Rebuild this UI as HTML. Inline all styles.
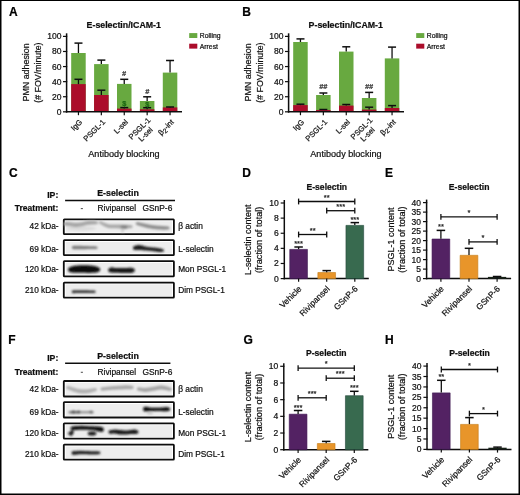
<!DOCTYPE html>
<html><head><meta charset="utf-8"><style>
html,body{margin:0;padding:0;background:#fff;width:520px;height:495px;overflow:hidden}
svg{display:block}
</style></head><body>
<svg width="520" height="495" viewBox="0 0 520 495">
<defs><filter id="blur1" x="-20%" y="-50%" width="140%" height="200%"><feGaussianBlur stdDeviation="0.9"/></filter><filter id="soft" x="0" y="0" width="520" height="495" filterUnits="userSpaceOnUse"><feGaussianBlur stdDeviation="0.4"/></filter></defs>
<rect x="0" y="0" width="520" height="495" fill="#000"/>
<rect x="1.5" y="1" width="517" height="492.5" fill="#fff"/>
<g font-family='"Liberation Sans", sans-serif' stroke-linejoin="round" filter="url(#soft)">
<text x="9.00" y="15.50" font-size="12" text-anchor="start" font-weight="bold" fill="#000" stroke="#000" stroke-width="0.22" >A</text>
<text x="242.20" y="15.50" font-size="12" text-anchor="start" font-weight="bold" fill="#000" stroke="#000" stroke-width="0.22" >B</text>
<text x="8.90" y="177.00" font-size="12" text-anchor="start" font-weight="bold" fill="#000" stroke="#000" stroke-width="0.22" >C</text>
<text x="242.30" y="176.70" font-size="12" text-anchor="start" font-weight="bold" fill="#000" stroke="#000" stroke-width="0.22" >D</text>
<text x="385.00" y="176.70" font-size="12" text-anchor="start" font-weight="bold" fill="#000" stroke="#000" stroke-width="0.22" >E</text>
<text x="8.30" y="344.00" font-size="12" text-anchor="start" font-weight="bold" fill="#000" stroke="#000" stroke-width="0.22" >F</text>
<text x="243.40" y="344.20" font-size="12" text-anchor="start" font-weight="bold" fill="#000" stroke="#000" stroke-width="0.22" >G</text>
<text x="385.00" y="344.20" font-size="12" text-anchor="start" font-weight="bold" fill="#000" stroke="#000" stroke-width="0.22" >H</text>
<text x="123.75" y="28.30" font-size="8.8" text-anchor="middle" font-weight="bold" fill="#111" stroke="#111" stroke-width="0.22" >E-selectin/ICAM-1</text>
<text transform="translate(29.40,72.40) rotate(-90)" font-size="8.9" text-anchor="middle" fill="#111" stroke="#111" stroke-width="0.22">PMN adhesion</text>
<text transform="translate(41.00,72.60) rotate(-90)" font-size="8.8" text-anchor="middle" fill="#111" stroke="#111" stroke-width="0.22">(# FOV/minute)</text>
<line x1="63.00" y1="111.80" x2="67.20" y2="111.80" stroke="#111" stroke-width="1.2"/>
<text x="61.50" y="114.80" font-size="8.5" text-anchor="end" fill="#111" stroke="#111" stroke-width="0.22" >0</text>
<line x1="63.00" y1="96.72" x2="67.20" y2="96.72" stroke="#111" stroke-width="1.2"/>
<text x="61.50" y="99.72" font-size="8.5" text-anchor="end" fill="#111" stroke="#111" stroke-width="0.22" >20</text>
<line x1="63.00" y1="81.64" x2="67.20" y2="81.64" stroke="#111" stroke-width="1.2"/>
<text x="61.50" y="84.64" font-size="8.5" text-anchor="end" fill="#111" stroke="#111" stroke-width="0.22" >40</text>
<line x1="63.00" y1="66.56" x2="67.20" y2="66.56" stroke="#111" stroke-width="1.2"/>
<text x="61.50" y="69.56" font-size="8.5" text-anchor="end" fill="#111" stroke="#111" stroke-width="0.22" >60</text>
<line x1="63.00" y1="51.48" x2="67.20" y2="51.48" stroke="#111" stroke-width="1.2"/>
<text x="61.50" y="54.48" font-size="8.5" text-anchor="end" fill="#111" stroke="#111" stroke-width="0.22" >80</text>
<line x1="63.00" y1="36.40" x2="67.20" y2="36.40" stroke="#111" stroke-width="1.2"/>
<text x="61.50" y="39.40" font-size="8.5" text-anchor="end" fill="#111" stroke="#111" stroke-width="0.22" >100</text>
<rect x="71.20" y="53.00" width="14.50" height="58.80" fill="#67a93f"/>
<rect x="71.20" y="84.10" width="14.50" height="27.70" fill="#ab0a2c"/>
<line x1="78.45" y1="53.00" x2="78.45" y2="43.10" stroke="#111" stroke-width="1.3"/>
<line x1="74.45" y1="43.10" x2="82.45" y2="43.10" stroke="#111" stroke-width="1.5"/>
<line x1="78.45" y1="84.10" x2="78.45" y2="79.30" stroke="#111" stroke-width="1.3"/>
<line x1="74.45" y1="79.30" x2="82.45" y2="79.30" stroke="#111" stroke-width="1.5"/>
<line x1="78.45" y1="111.80" x2="78.45" y2="115.20" stroke="#111" stroke-width="1.2"/>
<rect x="94.10" y="64.10" width="14.50" height="47.70" fill="#67a93f"/>
<rect x="94.10" y="95.00" width="14.50" height="16.80" fill="#ab0a2c"/>
<line x1="101.35" y1="64.10" x2="101.35" y2="60.10" stroke="#111" stroke-width="1.3"/>
<line x1="97.35" y1="60.10" x2="105.35" y2="60.10" stroke="#111" stroke-width="1.5"/>
<line x1="101.35" y1="95.00" x2="101.35" y2="90.20" stroke="#111" stroke-width="1.3"/>
<line x1="97.35" y1="90.20" x2="105.35" y2="90.20" stroke="#111" stroke-width="1.5"/>
<line x1="101.35" y1="111.80" x2="101.35" y2="115.20" stroke="#111" stroke-width="1.2"/>
<rect x="117.00" y="83.90" width="14.50" height="27.90" fill="#67a93f"/>
<rect x="117.00" y="108.60" width="14.50" height="3.20" fill="#ab0a2c"/>
<line x1="124.25" y1="83.90" x2="124.25" y2="79.30" stroke="#111" stroke-width="1.3"/>
<line x1="120.25" y1="79.30" x2="128.25" y2="79.30" stroke="#111" stroke-width="1.5"/>
<line x1="124.25" y1="108.60" x2="124.25" y2="107.60" stroke="#111" stroke-width="1.3"/>
<line x1="120.25" y1="107.60" x2="128.25" y2="107.60" stroke="#111" stroke-width="1.5"/>
<line x1="124.25" y1="111.80" x2="124.25" y2="115.20" stroke="#111" stroke-width="1.2"/>
<rect x="139.90" y="101.00" width="14.50" height="10.80" fill="#67a93f"/>
<rect x="139.90" y="109.30" width="14.50" height="2.50" fill="#ab0a2c"/>
<line x1="147.15" y1="101.00" x2="147.15" y2="96.80" stroke="#111" stroke-width="1.3"/>
<line x1="143.15" y1="96.80" x2="151.15" y2="96.80" stroke="#111" stroke-width="1.5"/>
<line x1="147.15" y1="109.30" x2="147.15" y2="107.70" stroke="#111" stroke-width="1.3"/>
<line x1="143.15" y1="107.70" x2="151.15" y2="107.70" stroke="#111" stroke-width="1.5"/>
<line x1="147.15" y1="111.80" x2="147.15" y2="115.20" stroke="#111" stroke-width="1.2"/>
<rect x="162.80" y="72.60" width="14.50" height="39.20" fill="#67a93f"/>
<rect x="162.80" y="107.40" width="14.50" height="4.40" fill="#ab0a2c"/>
<line x1="170.05" y1="72.60" x2="170.05" y2="60.50" stroke="#111" stroke-width="1.3"/>
<line x1="166.05" y1="60.50" x2="174.05" y2="60.50" stroke="#111" stroke-width="1.5"/>
<line x1="170.05" y1="107.40" x2="170.05" y2="107.00" stroke="#111" stroke-width="1.3"/>
<line x1="166.05" y1="107.00" x2="174.05" y2="107.00" stroke="#111" stroke-width="1.5"/>
<line x1="170.05" y1="111.80" x2="170.05" y2="115.20" stroke="#111" stroke-width="1.2"/>
<line x1="66.60" y1="33.30" x2="66.60" y2="112.50" stroke="#111" stroke-width="1.5"/>
<line x1="65.90" y1="111.80" x2="182.00" y2="111.80" stroke="#111" stroke-width="1.5"/>
<rect x="189.20" y="33.10" width="8.10" height="4.90" fill="#67a93f"/>
<rect x="189.20" y="43.70" width="8.10" height="4.90" fill="#ab0a2c"/>
<text x="199.80" y="37.90" font-size="6.8" text-anchor="start" fill="#111" stroke="#111" stroke-width="0.22" >Rolling</text>
<text x="199.80" y="48.50" font-size="6.8" text-anchor="start" fill="#111" stroke="#111" stroke-width="0.22" >Arrest</text>
<text transform="translate(82.75,122.60) rotate(-45)" font-size="7.6" text-anchor="end" fill="#111" stroke="#111" stroke-width="0.22">IgG</text>
<text transform="translate(105.65,122.60) rotate(-45)" font-size="7.6" text-anchor="end" fill="#111" stroke="#111" stroke-width="0.22">PSGL-1</text>
<text transform="translate(128.55,122.60) rotate(-45)" font-size="7.6" text-anchor="end" fill="#111" stroke="#111" stroke-width="0.22">L-sel</text>
<g transform="translate(150.95,120.80) rotate(-45)" font-size="7.6" fill="#111" stroke="#111" stroke-width="0.22"><text text-anchor="end">PSGL-1</text><text x="-13.52" y="8.3" text-anchor="middle">L-sel</text></g>
<text transform="translate(174.35,122.60) rotate(-45)" font-size="7.6" text-anchor="end" fill="#111" stroke="#111" stroke-width="0.22">&#946;<tspan font-size="6.6" dy="1.6">2</tspan><tspan dy="-1.6">-int</tspan></text>
<text x="123.95" y="156.90" font-size="9.1" text-anchor="middle" fill="#111" stroke="#111" stroke-width="0.22" >Antibody blocking</text>
<text x="124.10" y="75.70" font-size="7.2" text-anchor="middle" font-weight="bold" fill="#333" stroke="#333" stroke-width="0.22" font-style="italic">#</text>
<text x="147.20" y="93.50" font-size="7.2" text-anchor="middle" font-weight="bold" fill="#333" stroke="#333" stroke-width="0.22" font-style="italic">#</text>
<text x="124.20" y="106.40" font-size="7.4" text-anchor="middle" font-weight="bold" fill="#1d6814" stroke="#1d6814" stroke-width="0.22" >$</text>
<text x="147.30" y="106.70" font-size="7.4" text-anchor="middle" font-weight="bold" fill="#1d6814" stroke="#1d6814" stroke-width="0.22" >$</text>
<text x="345.75" y="28.30" font-size="8.8" text-anchor="middle" font-weight="bold" fill="#111" stroke="#111" stroke-width="0.22" >P-selectin/ICAM-1</text>
<text transform="translate(251.40,72.40) rotate(-90)" font-size="8.9" text-anchor="middle" fill="#111" stroke="#111" stroke-width="0.22">PMN adhesion</text>
<text transform="translate(263.00,72.60) rotate(-90)" font-size="8.8" text-anchor="middle" fill="#111" stroke="#111" stroke-width="0.22">(# FOV/minute)</text>
<line x1="285.00" y1="111.80" x2="289.20" y2="111.80" stroke="#111" stroke-width="1.2"/>
<text x="283.50" y="114.80" font-size="8.5" text-anchor="end" fill="#111" stroke="#111" stroke-width="0.22" >0</text>
<line x1="285.00" y1="96.72" x2="289.20" y2="96.72" stroke="#111" stroke-width="1.2"/>
<text x="283.50" y="99.72" font-size="8.5" text-anchor="end" fill="#111" stroke="#111" stroke-width="0.22" >20</text>
<line x1="285.00" y1="81.64" x2="289.20" y2="81.64" stroke="#111" stroke-width="1.2"/>
<text x="283.50" y="84.64" font-size="8.5" text-anchor="end" fill="#111" stroke="#111" stroke-width="0.22" >40</text>
<line x1="285.00" y1="66.56" x2="289.20" y2="66.56" stroke="#111" stroke-width="1.2"/>
<text x="283.50" y="69.56" font-size="8.5" text-anchor="end" fill="#111" stroke="#111" stroke-width="0.22" >60</text>
<line x1="285.00" y1="51.48" x2="289.20" y2="51.48" stroke="#111" stroke-width="1.2"/>
<text x="283.50" y="54.48" font-size="8.5" text-anchor="end" fill="#111" stroke="#111" stroke-width="0.22" >80</text>
<line x1="285.00" y1="36.40" x2="289.20" y2="36.40" stroke="#111" stroke-width="1.2"/>
<text x="283.50" y="39.40" font-size="8.5" text-anchor="end" fill="#111" stroke="#111" stroke-width="0.22" >100</text>
<rect x="293.20" y="42.00" width="14.50" height="69.80" fill="#67a93f"/>
<rect x="293.20" y="105.10" width="14.50" height="6.70" fill="#ab0a2c"/>
<line x1="300.45" y1="42.00" x2="300.45" y2="38.90" stroke="#111" stroke-width="1.3"/>
<line x1="296.45" y1="38.90" x2="304.45" y2="38.90" stroke="#111" stroke-width="1.5"/>
<line x1="300.45" y1="105.10" x2="300.45" y2="104.20" stroke="#111" stroke-width="1.3"/>
<line x1="296.45" y1="104.20" x2="304.45" y2="104.20" stroke="#111" stroke-width="1.5"/>
<line x1="300.45" y1="111.80" x2="300.45" y2="115.20" stroke="#111" stroke-width="1.2"/>
<rect x="316.10" y="95.00" width="14.50" height="16.80" fill="#67a93f"/>
<rect x="316.10" y="110.00" width="14.50" height="1.80" fill="#ab0a2c"/>
<line x1="323.35" y1="95.00" x2="323.35" y2="93.00" stroke="#111" stroke-width="1.3"/>
<line x1="319.35" y1="93.00" x2="327.35" y2="93.00" stroke="#111" stroke-width="1.5"/>
<line x1="323.35" y1="110.00" x2="323.35" y2="109.50" stroke="#111" stroke-width="1.3"/>
<line x1="319.35" y1="109.50" x2="327.35" y2="109.50" stroke="#111" stroke-width="1.5"/>
<line x1="323.35" y1="111.80" x2="323.35" y2="115.20" stroke="#111" stroke-width="1.2"/>
<rect x="339.00" y="51.60" width="14.50" height="60.20" fill="#67a93f"/>
<rect x="339.00" y="105.60" width="14.50" height="6.20" fill="#ab0a2c"/>
<line x1="346.25" y1="51.60" x2="346.25" y2="46.80" stroke="#111" stroke-width="1.3"/>
<line x1="342.25" y1="46.80" x2="350.25" y2="46.80" stroke="#111" stroke-width="1.5"/>
<line x1="346.25" y1="105.60" x2="346.25" y2="104.50" stroke="#111" stroke-width="1.3"/>
<line x1="342.25" y1="104.50" x2="350.25" y2="104.50" stroke="#111" stroke-width="1.5"/>
<line x1="346.25" y1="111.80" x2="346.25" y2="115.20" stroke="#111" stroke-width="1.2"/>
<rect x="361.90" y="98.00" width="14.50" height="13.80" fill="#67a93f"/>
<rect x="361.90" y="109.60" width="14.50" height="2.20" fill="#ab0a2c"/>
<line x1="369.15" y1="98.00" x2="369.15" y2="92.40" stroke="#111" stroke-width="1.3"/>
<line x1="365.15" y1="92.40" x2="373.15" y2="92.40" stroke="#111" stroke-width="1.5"/>
<line x1="369.15" y1="109.60" x2="369.15" y2="107.20" stroke="#111" stroke-width="1.3"/>
<line x1="365.15" y1="107.20" x2="373.15" y2="107.20" stroke="#111" stroke-width="1.5"/>
<line x1="369.15" y1="111.80" x2="369.15" y2="115.20" stroke="#111" stroke-width="1.2"/>
<rect x="384.80" y="58.40" width="14.50" height="53.40" fill="#67a93f"/>
<rect x="384.80" y="108.00" width="14.50" height="3.80" fill="#ab0a2c"/>
<line x1="392.05" y1="58.40" x2="392.05" y2="47.10" stroke="#111" stroke-width="1.3"/>
<line x1="388.05" y1="47.10" x2="396.05" y2="47.10" stroke="#111" stroke-width="1.5"/>
<line x1="392.05" y1="108.00" x2="392.05" y2="105.60" stroke="#111" stroke-width="1.3"/>
<line x1="388.05" y1="105.60" x2="396.05" y2="105.60" stroke="#111" stroke-width="1.5"/>
<line x1="392.05" y1="111.80" x2="392.05" y2="115.20" stroke="#111" stroke-width="1.2"/>
<line x1="288.60" y1="33.30" x2="288.60" y2="112.50" stroke="#111" stroke-width="1.5"/>
<line x1="287.90" y1="111.80" x2="404.00" y2="111.80" stroke="#111" stroke-width="1.5"/>
<rect x="416.20" y="33.10" width="8.10" height="4.90" fill="#67a93f"/>
<rect x="416.20" y="43.70" width="8.10" height="4.90" fill="#ab0a2c"/>
<text x="426.80" y="37.90" font-size="6.8" text-anchor="start" fill="#111" stroke="#111" stroke-width="0.22" >Rolling</text>
<text x="426.80" y="48.50" font-size="6.8" text-anchor="start" fill="#111" stroke="#111" stroke-width="0.22" >Arrest</text>
<text transform="translate(304.75,122.60) rotate(-45)" font-size="7.6" text-anchor="end" fill="#111" stroke="#111" stroke-width="0.22">IgG</text>
<text transform="translate(327.65,122.60) rotate(-45)" font-size="7.6" text-anchor="end" fill="#111" stroke="#111" stroke-width="0.22">PSGL-1</text>
<text transform="translate(350.55,122.60) rotate(-45)" font-size="7.6" text-anchor="end" fill="#111" stroke="#111" stroke-width="0.22">L-sel</text>
<g transform="translate(372.95,120.80) rotate(-45)" font-size="7.6" fill="#111" stroke="#111" stroke-width="0.22"><text text-anchor="end">PSGL-1</text><text x="-13.52" y="8.3" text-anchor="middle">L-sel</text></g>
<text transform="translate(396.35,122.60) rotate(-45)" font-size="7.6" text-anchor="end" fill="#111" stroke="#111" stroke-width="0.22">&#946;<tspan font-size="6.6" dy="1.6">2</tspan><tspan dy="-1.6">-int</tspan></text>
<text x="345.95" y="156.90" font-size="9.1" text-anchor="middle" fill="#111" stroke="#111" stroke-width="0.22" >Antibody blocking</text>
<text x="323.30" y="88.70" font-size="7.2" text-anchor="middle" font-weight="bold" fill="#333" stroke="#333" stroke-width="0.22" font-style="italic">##</text>
<text x="369.00" y="89.10" font-size="7.2" text-anchor="middle" font-weight="bold" fill="#333" stroke="#333" stroke-width="0.22" font-style="italic">##</text>
<text x="58.30" y="197.50" font-size="8.7" text-anchor="end" font-weight="bold" fill="#111" stroke="#111" stroke-width="0.22" >IP:</text>
<text x="58.30" y="210.90" font-size="8.5" text-anchor="end" font-weight="bold" fill="#111" stroke="#111" stroke-width="0.22" >Treatment:</text>
<text x="118.00" y="195.70" font-size="8.8" text-anchor="middle" font-weight="bold" fill="#111" stroke="#111" stroke-width="0.22" >E-selectin</text>
<line x1="65.10" y1="200.40" x2="175.00" y2="200.40" stroke="#111" stroke-width="1.5"/>
<rect x="80.8" y="208.20" width="2.1" height="0.9" fill="#333"/>
<text x="116.80" y="211.20" font-size="8.4" text-anchor="middle" fill="#111" stroke="#111" stroke-width="0.22" >Rivipansel</text>
<text x="157.40" y="211.20" font-size="8.4" text-anchor="middle" fill="#111" stroke="#111" stroke-width="0.22" >GSnP-6</text>
<rect x="63.8" y="219.40" width="110.1" height="14.80" rx="0.6" fill="#fff" stroke="#111" stroke-width="1.8"/>
<rect x="65.7" y="221.20" width="106.2" height="11.40" fill="#ededed"/>
<text x="58.60" y="229.10" font-size="8.3" text-anchor="end" fill="#111" stroke="#111" stroke-width="0.22" >42 kDa-</text>
<text x="178.20" y="229.10" font-size="8.3" text-anchor="start" fill="#111" stroke="#111" stroke-width="0.22" >&#946; actin</text>
<rect x="63.8" y="240.20" width="110.1" height="15.00" rx="0.6" fill="#fff" stroke="#111" stroke-width="1.8"/>
<rect x="65.7" y="242.00" width="106.2" height="11.60" fill="#ededed"/>
<text x="58.60" y="251.90" font-size="8.3" text-anchor="end" fill="#111" stroke="#111" stroke-width="0.22" >69 kDa-</text>
<text x="178.20" y="251.90" font-size="8.3" text-anchor="start" fill="#111" stroke="#111" stroke-width="0.22" >L-selectin</text>
<rect x="63.8" y="261.10" width="110.1" height="15.20" rx="0.6" fill="#fff" stroke="#111" stroke-width="1.8"/>
<rect x="65.7" y="262.90" width="106.2" height="11.80" fill="#ededed"/>
<text x="58.60" y="272.40" font-size="8.3" text-anchor="end" fill="#111" stroke="#111" stroke-width="0.22" >120 kDa-</text>
<text x="178.20" y="272.40" font-size="8.3" text-anchor="start" fill="#111" stroke="#111" stroke-width="0.22" >Mon PSGL-1</text>
<rect x="63.8" y="282.60" width="110.1" height="15.00" rx="0.6" fill="#fff" stroke="#111" stroke-width="1.8"/>
<rect x="65.7" y="284.40" width="106.2" height="11.60" fill="#ededed"/>
<text x="58.60" y="293.40" font-size="8.3" text-anchor="end" fill="#111" stroke="#111" stroke-width="0.22" >210 kDa-</text>
<text x="178.20" y="293.40" font-size="8.3" text-anchor="start" fill="#111" stroke="#111" stroke-width="0.22" >Dim PSGL-1</text>
<g filter="url(#blur1)">
<ellipse cx="81" cy="228.5" rx="15" ry="2.2" fill="#d6d6d6" opacity="0.8"/>
<path d="M65.50,221.90 L65.84,221.92 L66.27,221.95 L66.79,221.98 L67.38,222.01 L68.00,222.05 L68.66,222.10 L69.33,222.15 L70.00,222.20 L70.68,222.27 L71.39,222.36 L72.14,222.46 L72.91,222.56 L73.68,222.65 L74.46,222.73 L75.24,222.78 L76.00,222.80 L76.76,222.79 L77.52,222.75 L78.29,222.69 L79.06,222.61 L79.82,222.52 L80.57,222.42 L81.30,222.31 L82.00,222.20 L82.67,222.07 L83.30,221.92 L83.90,221.75 L84.50,221.58 L85.10,221.41 L85.70,221.25 L86.33,221.11 L87.00,221.00 L87.72,220.91 L88.49,220.84 L89.29,220.78 L90.09,220.74 L90.89,220.71 L91.65,220.69 L92.36,220.69 L93.00,220.70 L93.58,220.74 L94.13,220.80 L94.65,220.89 L95.12,220.98 L95.55,221.08 L95.93,221.17 L96.25,221.25 L96.50,221.30 A1.50,1.50 0 0 1 96.50,224.30 L96.50,224.30 L96.25,224.31 L95.93,224.33 L95.55,224.35 L95.12,224.37 L94.65,224.39 L94.13,224.42 L93.58,224.46 L93.00,224.50 L92.36,224.54 L91.65,224.59 L90.89,224.63 L90.09,224.69 L89.29,224.75 L88.49,224.82 L87.72,224.90 L87.00,225.00 L86.33,225.12 L85.70,225.26 L85.10,225.42 L84.50,225.58 L83.90,225.75 L83.30,225.91 L82.67,226.06 L82.00,226.20 L81.30,226.33 L80.57,226.47 L79.82,226.60 L79.06,226.73 L78.29,226.83 L77.52,226.92 L76.76,226.98 L76.00,227.00 L75.24,226.97 L74.46,226.91 L73.68,226.80 L72.91,226.68 L72.14,226.55 L71.39,226.42 L70.68,226.30 L70.00,226.20 L69.33,226.12 L68.66,226.04 L68.00,225.97 L67.38,225.90 L66.79,225.84 L66.27,225.78 L65.84,225.74 L65.50,225.70 A1.90,1.90 0 0 1 65.50,221.90 Z" fill="#a6a6a6" opacity="1.0"/>
<path d="M100.50,221.00 L100.76,221.13 L101.09,221.30 L101.49,221.50 L101.94,221.72 L102.42,221.96 L102.94,222.20 L103.47,222.43 L104.00,222.65 L104.55,222.87 L105.12,223.10 L105.72,223.33 L106.34,223.57 L106.99,223.79 L107.64,223.99 L108.32,224.16 L109.00,224.30 L109.67,224.39 L110.34,224.45 L111.00,224.48 L111.69,224.49 L112.41,224.49 L113.20,224.48 L114.05,224.48 L115.00,224.50 L116.09,224.52 L117.31,224.55 L118.63,224.57 L120.00,224.59 L121.37,224.62 L122.69,224.64 L123.91,224.67 L125.00,224.70 L125.98,224.73 L126.92,224.78 L127.81,224.82 L128.62,224.86 L129.37,224.91 L130.02,224.94 L130.56,224.98 L131.00,225.00 A1.60,1.60 0 0 1 131.00,228.20 L131.00,228.20 L130.56,228.23 L130.02,228.27 L129.37,228.31 L128.62,228.36 L127.81,228.41 L126.92,228.45 L125.98,228.48 L125.00,228.50 L123.91,228.50 L122.69,228.49 L121.37,228.46 L120.00,228.43 L118.63,228.40 L117.31,228.36 L116.09,228.33 L115.00,228.30 L114.05,228.29 L113.20,228.29 L112.41,228.30 L111.69,228.31 L111.00,228.30 L110.34,228.27 L109.67,228.21 L109.00,228.10 L108.32,227.94 L107.64,227.74 L106.99,227.51 L106.34,227.25 L105.72,226.97 L105.12,226.69 L104.55,226.42 L104.00,226.15 L103.47,225.88 L102.94,225.58 L102.42,225.26 L101.94,224.95 L101.49,224.66 L101.09,224.39 L100.76,224.17 L100.50,224.00 A1.50,1.50 0 0 1 100.50,221.00 Z" fill="#a9a9a9" opacity="1.0"/>
<ellipse cx="124" cy="226.9" rx="3.6" ry="2.0" fill="#808080" opacity="0.9"/>
<ellipse cx="122.5" cy="230.5" rx="1.3" ry="2.6" fill="#c4c4c4" opacity="0.8"/>
<path d="M137.30,222.10 L137.73,222.19 L138.28,222.30 L138.94,222.43 L139.68,222.57 L140.47,222.74 L141.31,222.90 L142.16,223.08 L143.00,223.25 L143.85,223.43 L144.72,223.63 L145.63,223.84 L146.57,224.06 L147.53,224.27 L148.53,224.48 L149.55,224.68 L150.60,224.85 L151.70,225.01 L152.86,225.15 L154.05,225.29 L155.27,225.42 L156.50,225.53 L157.71,225.65 L158.88,225.75 L160.00,225.85 L161.12,225.94 L162.29,226.03 L163.45,226.11 L164.59,226.19 L165.65,226.25 L166.60,226.31 L167.39,226.36 L168.00,226.40 A1.60,1.60 0 0 1 168.00,229.60 L168.00,229.60 L167.39,229.60 L166.60,229.61 L165.65,229.63 L164.59,229.64 L163.45,229.64 L162.29,229.63 L161.12,229.60 L160.00,229.55 L158.88,229.48 L157.71,229.39 L156.50,229.28 L155.27,229.16 L154.05,229.03 L152.86,228.88 L151.70,228.72 L150.60,228.55 L149.55,228.36 L148.53,228.15 L147.53,227.93 L146.57,227.69 L145.63,227.45 L144.72,227.21 L143.85,226.97 L143.00,226.75 L142.16,226.53 L141.31,226.29 L140.47,226.05 L139.68,225.81 L138.94,225.59 L138.28,225.39 L137.73,225.23 L137.30,225.10 A1.50,1.50 0 0 1 137.30,222.10 Z" fill="#8e8e8e" opacity="1.0"/>
<path d="M73.50,245.80 L73.99,245.80 L74.63,245.79 L75.40,245.79 L76.25,245.78 L77.17,245.78 L78.12,245.78 L79.07,245.79 L80.00,245.80 L80.93,245.82 L81.89,245.85 L82.88,245.89 L83.89,245.93 L84.91,245.97 L85.94,246.02 L86.98,246.06 L88.00,246.10 L89.08,246.14 L90.25,246.18 L91.46,246.23 L92.65,246.27 L93.78,246.31 L94.80,246.35 L95.66,246.38 L96.30,246.40 A1.30,1.30 0 0 1 96.30,249.00 L96.30,249.00 L95.66,249.01 L94.80,249.02 L93.78,249.03 L92.65,249.04 L91.46,249.06 L90.25,249.07 L89.08,249.09 L88.00,249.10 L86.98,249.11 L85.94,249.13 L84.91,249.14 L83.89,249.16 L82.88,249.17 L81.89,249.18 L80.93,249.19 L80.00,249.20 L79.07,249.20 L78.12,249.21 L77.17,249.21 L76.25,249.21 L75.40,249.20 L74.63,249.20 L73.99,249.20 L73.50,249.20 A1.70,1.70 0 0 1 73.50,245.80 Z" fill="#7c7c7c" opacity="1.0"/>
<path d="M135.20,245.70 L135.45,245.64 L135.79,245.55 L136.19,245.44 L136.63,245.32 L137.10,245.21 L137.58,245.11 L138.06,245.03 L138.50,245.00 L138.92,245.00 L139.35,245.02 L139.78,245.07 L140.21,245.13 L140.64,245.21 L141.09,245.30 L141.54,245.40 L142.00,245.50 L142.46,245.62 L142.92,245.76 L143.38,245.92 L143.84,246.09 L144.33,246.26 L144.85,246.42 L145.40,246.57 L146.00,246.70 L146.66,246.81 L147.38,246.91 L148.15,247.01 L148.94,247.09 L149.74,247.17 L150.52,247.25 L151.28,247.33 L152.00,247.40 L152.69,247.47 L153.37,247.54 L154.04,247.60 L154.69,247.66 L155.32,247.72 L155.91,247.78 L156.48,247.84 L157.00,247.90 L157.47,247.96 L157.90,248.02 L158.29,248.08 L158.65,248.14 L158.99,248.20 L159.33,248.26 L159.66,248.33 L160.00,248.40 L160.36,248.48 L160.74,248.58 L161.12,248.68 L161.49,248.78 L161.83,248.88 L162.14,248.97 L162.40,249.04 L162.60,249.10 A1.30,1.30 0 0 1 162.60,251.70 L162.60,251.70 L162.40,251.73 L162.14,251.77 L161.83,251.82 L161.49,251.87 L161.12,251.92 L160.74,251.96 L160.36,251.99 L160.00,252.00 L159.66,251.99 L159.33,251.98 L158.99,251.95 L158.65,251.91 L158.29,251.87 L157.90,251.82 L157.47,251.76 L157.00,251.70 L156.48,251.63 L155.91,251.55 L155.32,251.46 L154.69,251.36 L154.04,251.27 L153.37,251.17 L152.69,251.08 L152.00,251.00 L151.28,250.93 L150.52,250.86 L149.74,250.79 L148.94,250.73 L148.15,250.67 L147.38,250.61 L146.66,250.56 L146.00,250.50 L145.40,250.44 L144.85,250.39 L144.33,250.33 L143.84,250.28 L143.38,250.22 L142.92,250.18 L142.46,250.13 L142.00,250.10 L141.54,250.07 L141.09,250.05 L140.64,250.03 L140.21,250.02 L139.78,250.01 L139.35,250.00 L138.92,250.00 L138.50,250.00 L138.06,250.00 L137.58,250.01 L137.10,250.03 L136.63,250.04 L136.19,250.06 L135.79,250.08 L135.45,250.09 L135.20,250.10 A2.20,2.20 0 0 1 135.20,245.70 Z" fill="#1e1e1e" opacity="1.0"/>
<path d="M70.80,266.90 L70.96,266.84 L71.16,266.75 L71.41,266.65 L71.68,266.53 L71.98,266.41 L72.31,266.30 L72.65,266.19 L73.00,266.10 L73.36,266.02 L73.74,265.95 L74.13,265.89 L74.54,265.82 L74.98,265.77 L75.45,265.71 L75.96,265.66 L76.50,265.60 L77.09,265.54 L77.72,265.48 L78.39,265.42 L79.09,265.36 L79.81,265.31 L80.54,265.26 L81.27,265.23 L82.00,265.20 L82.73,265.19 L83.49,265.18 L84.26,265.18 L85.03,265.19 L85.80,265.21 L86.56,265.24 L87.29,265.26 L88.00,265.30 L88.68,265.34 L89.36,265.39 L90.01,265.45 L90.66,265.51 L91.28,265.58 L91.88,265.65 L92.45,265.73 L93.00,265.80 L93.52,265.88 L94.03,265.96 L94.52,266.05 L94.98,266.14 L95.41,266.23 L95.81,266.32 L96.18,266.41 L96.50,266.50 L96.78,266.59 L97.01,266.69 L97.21,266.79 L97.37,266.89 L97.50,266.99 L97.62,267.07 L97.71,267.15 L97.80,267.20 A2.40,2.40 0 0 1 97.80,272.00 L97.80,272.00 L97.71,272.04 L97.62,272.09 L97.50,272.16 L97.37,272.23 L97.21,272.31 L97.01,272.38 L96.78,272.44 L96.50,272.50 L96.18,272.55 L95.81,272.59 L95.41,272.64 L94.98,272.68 L94.52,272.71 L94.03,272.74 L93.52,272.77 L93.00,272.80 L92.45,272.82 L91.88,272.84 L91.28,272.86 L90.66,272.88 L90.01,272.89 L89.36,272.89 L88.68,272.90 L88.00,272.90 L87.29,272.90 L86.56,272.89 L85.80,272.87 L85.03,272.86 L84.26,272.84 L83.49,272.82 L82.73,272.81 L82.00,272.80 L81.27,272.80 L80.54,272.80 L79.81,272.80 L79.09,272.80 L78.39,272.80 L77.72,272.80 L77.09,272.80 L76.50,272.80 L75.96,272.79 L75.45,272.79 L74.98,272.78 L74.54,272.77 L74.13,272.76 L73.74,272.75 L73.36,272.73 L73.00,272.70 L72.65,272.66 L72.31,272.61 L71.98,272.55 L71.68,272.49 L71.41,272.43 L71.16,272.38 L70.96,272.33 L70.80,272.30 A2.70,2.70 0 0 1 70.80,266.90 Z" fill="#101010" opacity="1.0"/>
<path d="M110.60,267.80 L110.68,267.74 L110.78,267.66 L110.90,267.56 L111.03,267.46 L111.19,267.36 L111.37,267.27 L111.57,267.22 L111.80,267.20 L112.05,267.23 L112.30,267.30 L112.58,267.39 L112.88,267.50 L113.22,267.62 L113.59,267.73 L114.02,267.83 L114.50,267.90 L115.04,267.95 L115.64,267.99 L116.29,268.03 L116.98,268.06 L117.70,268.08 L118.45,268.09 L119.22,268.10 L120.00,268.10 L120.82,268.09 L121.70,268.08 L122.62,268.05 L123.56,268.02 L124.49,267.99 L125.39,267.95 L126.23,267.92 L127.00,267.90 L127.70,267.88 L128.38,267.86 L129.01,267.83 L129.61,267.81 L130.16,267.80 L130.66,267.79 L131.11,267.79 L131.50,267.80 L131.82,267.83 L132.08,267.87 L132.28,267.93 L132.43,267.99 L132.55,268.06 L132.64,268.12 L132.72,268.17 L132.80,268.20 A2.10,2.10 0 0 1 132.80,272.40 L132.80,272.40 L132.72,272.45 L132.64,272.52 L132.55,272.60 L132.43,272.69 L132.28,272.79 L132.08,272.87 L131.82,272.94 L131.50,273.00 L131.11,273.04 L130.66,273.07 L130.16,273.09 L129.61,273.10 L129.01,273.11 L128.38,273.11 L127.70,273.11 L127.00,273.10 L126.23,273.09 L125.39,273.07 L124.49,273.05 L123.56,273.02 L122.62,272.99 L121.70,272.96 L120.82,272.93 L120.00,272.90 L119.22,272.87 L118.45,272.85 L117.70,272.82 L116.98,272.79 L116.29,272.77 L115.64,272.74 L115.04,272.72 L114.50,272.70 L114.02,272.68 L113.59,272.67 L113.22,272.65 L112.88,272.64 L112.58,272.63 L112.30,272.62 L112.05,272.61 L111.80,272.60 L111.57,272.60 L111.37,272.59 L111.19,272.59 L111.03,272.59 L110.90,272.60 L110.78,272.60 L110.68,272.60 L110.60,272.60 A2.40,2.40 0 0 1 110.60,267.80 Z" fill="#181818" opacity="1.0"/>
<path d="M73.20,290.20 L73.53,290.19 L73.94,290.19 L74.42,290.17 L74.98,290.16 L75.61,290.15 L76.32,290.15 L77.12,290.14 L78.00,290.15 L79.03,290.16 L80.22,290.18 L81.53,290.21 L82.90,290.23 L84.29,290.26 L85.63,290.29 L86.89,290.32 L88.00,290.35 L89.02,290.38 L90.00,290.40 L90.94,290.43 L91.83,290.46 L92.63,290.49 L93.33,290.51 L93.93,290.53 L94.40,290.55 A1.25,1.25 0 0 1 94.40,293.05 L94.40,293.05 L93.93,293.05 L93.33,293.05 L92.63,293.05 L91.83,293.05 L90.94,293.05 L90.00,293.05 L89.02,293.05 L88.00,293.05 L86.89,293.05 L85.63,293.05 L84.29,293.04 L82.90,293.04 L81.53,293.04 L80.22,293.04 L79.03,293.04 L78.00,293.05 L77.12,293.06 L76.32,293.08 L75.61,293.10 L74.98,293.12 L74.42,293.15 L73.94,293.17 L73.53,293.19 L73.20,293.20 A1.50,1.50 0 0 1 73.20,290.20 Z" fill="#333333" opacity="1.0"/>
</g>
<text x="58.30" y="361.20" font-size="8.7" text-anchor="end" font-weight="bold" fill="#111" stroke="#111" stroke-width="0.22" >IP:</text>
<text x="58.30" y="374.50" font-size="8.5" text-anchor="end" font-weight="bold" fill="#111" stroke="#111" stroke-width="0.22" >Treatment:</text>
<text x="118.00" y="359.30" font-size="8.8" text-anchor="middle" font-weight="bold" fill="#111" stroke="#111" stroke-width="0.22" >P-selectin</text>
<line x1="65.10" y1="363.20" x2="170.40" y2="363.20" stroke="#111" stroke-width="1.5"/>
<rect x="80.8" y="371.80" width="2.1" height="0.9" fill="#333"/>
<text x="116.80" y="374.80" font-size="8.4" text-anchor="middle" fill="#111" stroke="#111" stroke-width="0.22" >Rivipansel</text>
<text x="157.40" y="374.80" font-size="8.4" text-anchor="middle" fill="#111" stroke="#111" stroke-width="0.22" >GSnP-6</text>
<rect x="63.8" y="381.00" width="110.1" height="15.50" rx="0.6" fill="#fff" stroke="#111" stroke-width="1.8"/>
<rect x="65.7" y="382.80" width="106.2" height="12.10" fill="#ededed"/>
<text x="58.60" y="392.30" font-size="8.3" text-anchor="end" fill="#111" stroke="#111" stroke-width="0.22" >42 kDa-</text>
<text x="178.20" y="392.30" font-size="8.3" text-anchor="start" fill="#111" stroke="#111" stroke-width="0.22" >&#946; actin</text>
<rect x="63.8" y="402.20" width="110.1" height="15.30" rx="0.6" fill="#fff" stroke="#111" stroke-width="1.8"/>
<rect x="65.7" y="404.00" width="106.2" height="11.90" fill="#ededed"/>
<text x="58.60" y="415.20" font-size="8.3" text-anchor="end" fill="#111" stroke="#111" stroke-width="0.22" >69 kDa-</text>
<text x="178.20" y="415.20" font-size="8.3" text-anchor="start" fill="#111" stroke="#111" stroke-width="0.22" >L-selectin</text>
<rect x="63.8" y="423.40" width="110.1" height="15.30" rx="0.6" fill="#fff" stroke="#111" stroke-width="1.8"/>
<rect x="65.7" y="425.20" width="106.2" height="11.90" fill="#ededed"/>
<text x="58.60" y="435.90" font-size="8.3" text-anchor="end" fill="#111" stroke="#111" stroke-width="0.22" >120 kDa-</text>
<text x="178.20" y="435.90" font-size="8.3" text-anchor="start" fill="#111" stroke="#111" stroke-width="0.22" >Mon PSGL-1</text>
<rect x="63.8" y="444.70" width="110.1" height="14.90" rx="0.6" fill="#fff" stroke="#111" stroke-width="1.8"/>
<rect x="65.7" y="446.50" width="106.2" height="11.50" fill="#ededed"/>
<text x="58.60" y="457.20" font-size="8.3" text-anchor="end" fill="#111" stroke="#111" stroke-width="0.22" >210 kDa-</text>
<text x="178.20" y="457.20" font-size="8.3" text-anchor="start" fill="#111" stroke="#111" stroke-width="0.22" >Dim PSGL-1</text>
<g filter="url(#blur1)">
<path d="M67.80,385.90 L68.20,386.02 L68.72,386.17 L69.35,386.35 L70.04,386.56 L70.78,386.77 L71.54,386.99 L72.29,387.20 L73.00,387.40 L73.68,387.60 L74.38,387.80 L75.07,388.01 L75.78,388.22 L76.50,388.42 L77.22,388.60 L77.96,388.77 L78.70,388.90 L79.47,389.01 L80.27,389.10 L81.08,389.17 L81.90,389.22 L82.71,389.26 L83.51,389.29 L84.28,389.30 L85.00,389.30 L85.68,389.28 L86.31,389.25 L86.91,389.20 L87.50,389.13 L88.08,389.06 L88.67,388.97 L89.27,388.89 L89.90,388.80 L90.60,388.70 L91.36,388.58 L92.16,388.45 L92.96,388.32 L93.71,388.19 L94.40,388.07 L94.97,387.97 L95.40,387.90 A1.70,1.70 0 0 1 95.40,391.30 L95.40,391.30 L94.97,391.42 L94.40,391.59 L93.71,391.79 L92.96,392.01 L92.16,392.23 L91.36,392.45 L90.60,392.64 L89.90,392.80 L89.27,392.93 L88.67,393.06 L88.08,393.17 L87.50,393.27 L86.91,393.35 L86.31,393.42 L85.68,393.47 L85.00,393.50 L84.28,393.51 L83.51,393.51 L82.71,393.49 L81.90,393.45 L81.08,393.39 L80.27,393.32 L79.47,393.22 L78.70,393.10 L77.96,392.95 L77.22,392.78 L76.50,392.58 L75.78,392.36 L75.07,392.12 L74.38,391.88 L73.68,391.64 L73.00,391.40 L72.29,391.14 L71.54,390.85 L70.78,390.55 L70.04,390.24 L69.35,389.95 L68.72,389.69 L68.20,389.46 L67.80,389.30 A1.70,1.70 0 0 1 67.80,385.90 Z" fill="#b0b0b0" opacity="1.0"/>
<path d="M102.10,387.30 L102.70,387.23 L103.47,387.13 L104.39,387.02 L105.42,386.89 L106.54,386.76 L107.69,386.63 L108.86,386.51 L110.00,386.40 L111.18,386.30 L112.45,386.20 L113.77,386.11 L115.12,386.02 L116.45,385.93 L117.73,385.85 L118.93,385.77 L120.00,385.70 L120.94,385.63 L121.78,385.56 L122.54,385.49 L123.25,385.43 L123.93,385.38 L124.59,385.34 L125.28,385.31 L126.00,385.30 L126.79,385.31 L127.64,385.35 L128.51,385.41 L129.38,385.48 L130.19,385.54 L130.92,385.61 L131.54,385.66 L132.00,385.70 A1.70,1.70 0 0 1 132.00,389.10 L132.00,389.10 L131.54,389.12 L130.92,389.14 L130.19,389.16 L129.38,389.19 L128.51,389.22 L127.64,389.25 L126.79,389.27 L126.00,389.30 L125.28,389.32 L124.59,389.34 L123.93,389.36 L123.25,389.38 L122.54,389.40 L121.78,389.43 L120.94,389.46 L120.00,389.50 L118.93,389.55 L117.73,389.60 L116.45,389.66 L115.12,389.72 L113.77,389.78 L112.45,389.85 L111.18,389.93 L110.00,390.00 L108.86,390.08 L107.69,390.18 L106.54,390.28 L105.42,390.38 L104.39,390.48 L103.47,390.57 L102.70,390.64 L102.10,390.70 A1.70,1.70 0 0 1 102.10,387.30 Z" fill="#a8a8a8" opacity="1.0"/>
<path d="M138.50,387.30 L139.00,387.36 L139.66,387.44 L140.44,387.55 L141.31,387.66 L142.24,387.76 L143.19,387.84 L144.12,387.89 L145.00,387.90 L145.84,387.86 L146.69,387.79 L147.54,387.69 L148.41,387.57 L149.28,387.44 L150.17,387.30 L151.07,387.15 L152.00,387.00 L152.97,386.84 L154.00,386.64 L155.06,386.43 L156.12,386.22 L157.18,386.02 L158.19,385.84 L159.14,385.69 L160.00,385.60 L160.77,385.56 L161.46,385.55 L162.09,385.57 L162.69,385.61 L163.26,385.68 L163.82,385.77 L164.40,385.88 L165.00,386.00 L165.66,386.15 L166.37,386.35 L167.09,386.58 L167.81,386.82 L168.49,387.06 L169.10,387.28 L169.61,387.47 L170.00,387.60 A1.70,1.70 0 0 1 170.00,391.00 L170.00,391.00 L169.61,390.92 L169.10,390.81 L168.49,390.67 L167.81,390.53 L167.09,390.38 L166.37,390.23 L165.66,390.10 L165.00,390.00 L164.40,389.91 L163.82,389.82 L163.26,389.73 L162.69,389.65 L162.09,389.59 L161.46,389.56 L160.77,389.56 L160.00,389.60 L159.14,389.69 L158.19,389.84 L157.18,390.02 L156.12,390.22 L155.06,390.43 L154.00,390.64 L152.97,390.84 L152.00,391.00 L151.07,391.15 L150.17,391.31 L149.28,391.47 L148.41,391.61 L147.54,391.74 L146.69,391.83 L145.84,391.89 L145.00,391.90 L144.12,391.84 L143.19,391.72 L142.24,391.55 L141.31,391.36 L140.44,391.15 L139.66,390.96 L139.00,390.81 L138.50,390.70 A1.70,1.70 0 0 1 138.50,387.30 Z" fill="#a4a4a4" opacity="1.0"/>
<path d="M69.50,411.00 L69.91,410.99 L70.45,410.97 L71.09,410.95 L71.81,410.93 L72.59,410.91 L73.39,410.90 L74.20,410.89 L75.00,410.90 L75.81,410.92 L76.67,410.95 L77.56,411.00 L78.47,411.04 L79.38,411.09 L80.29,411.14 L81.16,411.17 L82.00,411.20 L82.81,411.22 L83.61,411.23 L84.39,411.23 L85.16,411.23 L85.90,411.23 L86.63,411.22 L87.33,411.21 L88.00,411.20 L88.67,411.18 L89.34,411.16 L90.00,411.13 L90.62,411.10 L91.21,411.07 L91.73,411.04 L92.16,411.02 L92.50,411.00 A1.20,1.20 0 0 1 92.50,413.40 L92.50,413.40 L92.16,413.38 L91.73,413.36 L91.21,413.33 L90.62,413.30 L90.00,413.27 L89.34,413.24 L88.67,413.22 L88.00,413.20 L87.33,413.19 L86.63,413.18 L85.90,413.17 L85.16,413.17 L84.39,413.17 L83.61,413.17 L82.81,413.18 L82.00,413.20 L81.16,413.23 L80.29,413.26 L79.38,413.31 L78.47,413.36 L77.56,413.40 L76.67,413.45 L75.81,413.48 L75.00,413.50 L74.20,413.51 L73.39,413.50 L72.59,413.49 L71.81,413.47 L71.09,413.45 L70.45,413.43 L69.91,413.41 L69.50,413.40 A1.20,1.20 0 0 1 69.50,411.00 Z" fill="#8a8a8a" opacity="1.0"/>
<ellipse cx="73.5" cy="412.1" rx="2.6" ry="1.5" fill="#444" opacity="0.9"/>
<ellipse cx="78.5" cy="412.0" rx="2.0" ry="1.5" fill="#444" opacity="0.9"/>
<ellipse cx="91" cy="412.1" rx="1.6" ry="1.4" fill="#555" opacity="0.9"/>
<path d="M145.40,406.80 L145.55,406.81 L145.72,406.82 L145.93,406.83 L146.17,406.85 L146.44,406.87 L146.76,406.90 L147.11,406.94 L147.50,407.00 L147.92,407.08 L148.37,407.18 L148.86,407.29 L149.38,407.42 L149.95,407.54 L150.57,407.65 L151.25,407.74 L152.00,407.80 L152.85,407.84 L153.80,407.86 L154.83,407.87 L155.91,407.87 L156.99,407.85 L158.06,407.82 L159.07,407.79 L160.00,407.75 L160.87,407.69 L161.73,407.61 L162.55,407.50 L163.35,407.40 L164.10,407.29 L164.80,407.20 L165.44,407.14 L166.00,407.10 L166.49,407.10 L166.91,407.14 L167.27,407.19 L167.57,407.26 L167.83,407.33 L168.05,407.40 L168.24,407.46 L168.40,407.50 A1.70,1.70 0 0 1 168.40,410.90 L168.40,410.90 L168.24,410.94 L168.05,410.99 L167.83,411.05 L167.57,411.12 L167.27,411.18 L166.91,411.24 L166.49,411.28 L166.00,411.30 L165.44,411.30 L164.80,411.27 L164.10,411.24 L163.35,411.19 L162.55,411.14 L161.73,411.10 L160.87,411.07 L160.00,411.05 L159.07,411.05 L158.06,411.05 L156.99,411.07 L155.91,411.08 L154.83,411.11 L153.80,411.14 L152.85,411.17 L152.00,411.20 L151.25,411.24 L150.57,411.29 L149.95,411.35 L149.38,411.41 L148.86,411.47 L148.37,411.52 L147.92,411.57 L147.50,411.60 L147.11,411.62 L146.76,411.63 L146.44,411.63 L146.17,411.63 L145.93,411.62 L145.72,411.61 L145.55,411.60 L145.40,411.60 A2.40,2.40 0 0 1 145.40,406.80 Z" fill="#0f0f0f" opacity="1.0"/>
<ellipse cx="150" cy="413.5" rx="3" ry="1.2" fill="#bbb" opacity="0.7"/>
<path d="M72.30,426.50 L72.57,426.46 L72.91,426.41 L73.32,426.35 L73.77,426.29 L74.28,426.22 L74.83,426.16 L75.40,426.10 L76.00,426.05 L76.64,426.01 L77.34,425.97 L78.08,425.93 L78.86,425.90 L79.65,425.88 L80.45,425.86 L81.23,425.85 L82.00,425.85 L82.75,425.86 L83.50,425.89 L84.25,425.93 L85.00,425.97 L85.75,426.02 L86.50,426.07 L87.25,426.11 L88.00,426.15 L88.76,426.18 L89.54,426.21 L90.32,426.23 L91.09,426.25 L91.86,426.28 L92.61,426.30 L93.32,426.32 L94.00,426.35 L94.65,426.38 L95.27,426.41 L95.87,426.44 L96.45,426.47 L97.00,426.50 L97.53,426.53 L98.03,426.57 L98.50,426.60 L98.95,426.64 L99.39,426.68 L99.80,426.72 L100.18,426.77 L100.53,426.81 L100.84,426.84 L101.10,426.88 L101.30,426.90 A2.50,2.50 0 0 1 101.30,431.90 L101.30,431.90 L101.10,431.87 L100.84,431.83 L100.53,431.78 L100.18,431.72 L99.80,431.66 L99.39,431.58 L98.95,431.50 L98.50,431.40 L98.03,431.28 L97.53,431.14 L97.00,430.98 L96.45,430.82 L95.87,430.65 L95.27,430.50 L94.65,430.36 L94.00,430.25 L93.32,430.16 L92.61,430.09 L91.86,430.03 L91.09,429.98 L90.32,429.95 L89.54,429.91 L88.76,429.88 L88.00,429.85 L87.25,429.82 L86.50,429.80 L85.75,429.78 L85.00,429.76 L84.25,429.75 L83.50,429.75 L82.75,429.75 L82.00,429.75 L81.23,429.76 L80.45,429.78 L79.65,429.81 L78.86,429.83 L78.08,429.87 L77.34,429.90 L76.64,429.93 L76.00,429.95 L75.40,429.97 L74.83,429.99 L74.28,430.02 L73.77,430.04 L73.32,430.06 L72.91,430.07 L72.57,430.09 L72.30,430.10 A1.80,1.80 0 0 1 72.30,426.50 Z" fill="#0d0d0d" opacity="1.0"/>
<polygon points="67.6,433.5 72.5,429.8 74,432.2 71.5,436.3" fill="#151515"/>
<ellipse cx="92.0" cy="433.4" rx="4.3" ry="2.0" fill="#151515" opacity="1"/>
<path d="M110.20,430.25 L110.57,430.19 L111.06,430.11 L111.64,430.01 L112.29,429.90 L112.97,429.79 L113.67,429.70 L114.36,429.63 L115.00,429.60 L115.61,429.60 L116.21,429.64 L116.82,429.69 L117.42,429.76 L118.04,429.83 L118.67,429.91 L119.33,429.99 L120.00,430.05 L120.71,430.11 L121.45,430.18 L122.22,430.26 L123.00,430.33 L123.78,430.40 L124.55,430.45 L125.29,430.49 L126.00,430.50 L126.68,430.48 L127.34,430.44 L127.99,430.38 L128.62,430.31 L129.24,430.23 L129.84,430.14 L130.43,430.07 L131.00,430.00 L131.56,429.93 L132.12,429.86 L132.67,429.77 L133.20,429.70 L133.71,429.63 L134.18,429.58 L134.61,429.55 L135.00,429.55 L135.34,429.59 L135.65,429.67 L135.92,429.78 L136.15,429.90 L136.35,430.02 L136.53,430.14 L136.68,430.23 L136.80,430.30 A1.70,1.70 0 0 1 136.80,433.70 L136.80,433.70 L136.68,433.73 L136.53,433.77 L136.35,433.82 L136.15,433.88 L135.92,433.93 L135.65,433.98 L135.34,434.02 L135.00,434.05 L134.61,434.06 L134.18,434.05 L133.71,434.04 L133.20,434.02 L132.67,434.00 L132.12,433.98 L131.56,433.98 L131.00,434.00 L130.43,434.04 L129.84,434.10 L129.24,434.17 L128.62,434.24 L127.99,434.32 L127.34,434.39 L126.68,434.46 L126.00,434.50 L125.29,434.53 L124.55,434.57 L123.78,434.60 L123.00,434.62 L122.22,434.62 L121.45,434.62 L120.71,434.59 L120.00,434.55 L119.33,434.47 L118.67,434.36 L118.04,434.22 L117.42,434.07 L116.82,433.92 L116.21,433.78 L115.61,433.67 L115.00,433.60 L114.36,433.57 L113.67,433.56 L112.97,433.58 L112.29,433.62 L111.64,433.66 L111.06,433.70 L110.57,433.73 L110.20,433.75 A1.75,1.75 0 0 1 110.20,430.25 Z" fill="#151515" opacity="1.0"/>
<path d="M73.50,451.00 L73.67,450.99 L73.87,450.98 L74.10,450.97 L74.38,450.95 L74.70,450.94 L75.07,450.92 L75.50,450.91 L76.00,450.90 L76.57,450.89 L77.21,450.88 L77.91,450.86 L78.66,450.85 L79.45,450.84 L80.28,450.84 L81.13,450.84 L82.00,450.85 L82.92,450.87 L83.91,450.91 L84.94,450.95 L86.00,451.00 L87.06,451.04 L88.09,451.09 L89.08,451.12 L90.00,451.15 L90.87,451.16 L91.71,451.16 L92.53,451.16 L93.31,451.15 L94.06,451.14 L94.76,451.13 L95.41,451.14 L96.00,451.15 L96.54,451.18 L97.03,451.22 L97.48,451.27 L97.88,451.32 L98.23,451.38 L98.53,451.43 L98.79,451.47 L99.00,451.50 A1.40,1.40 0 0 1 99.00,454.30 L99.00,454.30 L98.79,454.31 L98.53,454.33 L98.23,454.35 L97.88,454.37 L97.48,454.40 L97.03,454.42 L96.54,454.44 L96.00,454.45 L95.41,454.46 L94.76,454.47 L94.06,454.47 L93.31,454.48 L92.53,454.48 L91.71,454.47 L90.87,454.47 L90.00,454.45 L89.08,454.42 L88.09,454.38 L87.06,454.32 L86.00,454.27 L84.94,454.21 L83.91,454.17 L82.92,454.15 L82.00,454.15 L81.13,454.18 L80.28,454.23 L79.45,454.30 L78.66,454.39 L77.91,454.47 L77.21,454.56 L76.57,454.64 L76.00,454.70 L75.50,454.75 L75.07,454.80 L74.70,454.84 L74.38,454.88 L74.10,454.92 L73.87,454.95 L73.67,454.98 L73.50,455.00 A2.00,2.00 0 0 1 73.50,451.00 Z" fill="#222" opacity="1.0"/>
</g>
<line x1="280.70" y1="278.60" x2="284.90" y2="278.60" stroke="#111" stroke-width="1.2"/>
<text x="278.70" y="281.60" font-size="8.5" text-anchor="end" fill="#111" stroke="#111" stroke-width="0.22" >0</text>
<line x1="280.70" y1="263.48" x2="284.90" y2="263.48" stroke="#111" stroke-width="1.2"/>
<text x="278.70" y="266.48" font-size="8.5" text-anchor="end" fill="#111" stroke="#111" stroke-width="0.22" >2</text>
<line x1="280.70" y1="248.36" x2="284.90" y2="248.36" stroke="#111" stroke-width="1.2"/>
<text x="278.70" y="251.36" font-size="8.5" text-anchor="end" fill="#111" stroke="#111" stroke-width="0.22" >4</text>
<line x1="280.70" y1="233.24" x2="284.90" y2="233.24" stroke="#111" stroke-width="1.2"/>
<text x="278.70" y="236.24" font-size="8.5" text-anchor="end" fill="#111" stroke="#111" stroke-width="0.22" >6</text>
<line x1="280.70" y1="218.12" x2="284.90" y2="218.12" stroke="#111" stroke-width="1.2"/>
<text x="278.70" y="221.12" font-size="8.5" text-anchor="end" fill="#111" stroke="#111" stroke-width="0.22" >8</text>
<line x1="280.70" y1="203.00" x2="284.90" y2="203.00" stroke="#111" stroke-width="1.2"/>
<text x="278.70" y="206.00" font-size="8.5" text-anchor="end" fill="#111" stroke="#111" stroke-width="0.22" >10</text>
<line x1="284.30" y1="200.00" x2="284.30" y2="279.30" stroke="#111" stroke-width="1.5"/>
<line x1="283.60" y1="278.60" x2="368.80" y2="278.60" stroke="#111" stroke-width="1.5"/>
<text transform="translate(251.30,239.70) rotate(-90)" font-size="9.0" text-anchor="middle" fill="#111" stroke="#111" stroke-width="0.22">L-selectin content</text>
<text transform="translate(262.40,239.80) rotate(-90)" font-size="9.2" text-anchor="middle" fill="#111" stroke="#111" stroke-width="0.22">(fraction of total)</text>
<text x="326.80" y="189.90" font-size="8.6" text-anchor="middle" font-weight="bold" fill="#111" stroke="#111" stroke-width="0.22" >E-selectin</text>
<rect x="289.75" y="249.40" width="17.70" height="29.20" fill="#522463" stroke="#3c1550" stroke-width="0.6"/>
<line x1="298.60" y1="249.10" x2="298.60" y2="247.00" stroke="#111" stroke-width="1.3"/>
<line x1="294.35" y1="247.00" x2="302.85" y2="247.00" stroke="#111" stroke-width="1.5"/>
<line x1="298.60" y1="278.60" x2="298.60" y2="281.80" stroke="#111" stroke-width="1.2"/>
<text x="298.60" y="246.00" font-size="7.5" text-anchor="middle" fill="#222" stroke="#222" stroke-width="0.22" >***</text>
<text transform="translate(302.10,289.40) rotate(-45)" font-size="8.4" text-anchor="end" fill="#111" stroke="#111" stroke-width="0.22">Vehicle</text>
<rect x="317.85" y="272.50" width="17.70" height="6.10" fill="#e8952a" stroke="#c47c1a" stroke-width="0.6"/>
<line x1="326.70" y1="272.20" x2="326.70" y2="270.60" stroke="#111" stroke-width="1.3"/>
<line x1="322.45" y1="270.60" x2="330.95" y2="270.60" stroke="#111" stroke-width="1.5"/>
<line x1="326.70" y1="278.60" x2="326.70" y2="281.80" stroke="#111" stroke-width="1.2"/>
<text transform="translate(330.20,289.40) rotate(-45)" font-size="8.4" text-anchor="end" fill="#111" stroke="#111" stroke-width="0.22">Rivipansel</text>
<rect x="345.95" y="225.40" width="17.70" height="53.20" fill="#386a50" stroke="#22473a" stroke-width="0.6"/>
<line x1="354.80" y1="225.10" x2="354.80" y2="222.60" stroke="#111" stroke-width="1.3"/>
<line x1="350.55" y1="222.60" x2="359.05" y2="222.60" stroke="#111" stroke-width="1.5"/>
<line x1="354.80" y1="278.60" x2="354.80" y2="281.80" stroke="#111" stroke-width="1.2"/>
<text x="354.80" y="221.60" font-size="7.5" text-anchor="middle" fill="#222" stroke="#222" stroke-width="0.22" >***</text>
<text transform="translate(358.30,289.40) rotate(-45)" font-size="8.4" text-anchor="end" fill="#111" stroke="#111" stroke-width="0.22">GSnP-6</text>
<line x1="298.60" y1="201.50" x2="354.80" y2="201.50" stroke="#111" stroke-width="1.3"/>
<line x1="298.60" y1="198.60" x2="298.60" y2="204.40" stroke="#111" stroke-width="1.3"/>
<line x1="354.80" y1="198.60" x2="354.80" y2="204.40" stroke="#111" stroke-width="1.3"/>
<text x="326.70" y="199.70" font-size="7.5" text-anchor="middle" fill="#222" stroke="#222" stroke-width="0.22" >**</text>
<line x1="326.70" y1="210.70" x2="354.80" y2="210.70" stroke="#111" stroke-width="1.3"/>
<line x1="326.70" y1="207.80" x2="326.70" y2="213.60" stroke="#111" stroke-width="1.3"/>
<line x1="354.80" y1="207.80" x2="354.80" y2="213.60" stroke="#111" stroke-width="1.3"/>
<text x="340.75" y="208.90" font-size="7.5" text-anchor="middle" fill="#222" stroke="#222" stroke-width="0.22" >***</text>
<line x1="298.60" y1="234.50" x2="326.70" y2="234.50" stroke="#111" stroke-width="1.3"/>
<line x1="298.60" y1="231.60" x2="298.60" y2="237.40" stroke="#111" stroke-width="1.3"/>
<line x1="326.70" y1="231.60" x2="326.70" y2="237.40" stroke="#111" stroke-width="1.3"/>
<text x="312.65" y="232.70" font-size="7.5" text-anchor="middle" fill="#222" stroke="#222" stroke-width="0.22" >**</text>
<line x1="423.00" y1="278.60" x2="427.20" y2="278.60" stroke="#111" stroke-width="1.2"/>
<text x="421.00" y="281.60" font-size="8.5" text-anchor="end" fill="#111" stroke="#111" stroke-width="0.22" >0</text>
<line x1="423.00" y1="269.10" x2="427.20" y2="269.10" stroke="#111" stroke-width="1.2"/>
<text x="421.00" y="272.10" font-size="8.5" text-anchor="end" fill="#111" stroke="#111" stroke-width="0.22" >5</text>
<line x1="423.00" y1="259.60" x2="427.20" y2="259.60" stroke="#111" stroke-width="1.2"/>
<text x="421.00" y="262.60" font-size="8.5" text-anchor="end" fill="#111" stroke="#111" stroke-width="0.22" >10</text>
<line x1="423.00" y1="250.10" x2="427.20" y2="250.10" stroke="#111" stroke-width="1.2"/>
<text x="421.00" y="253.10" font-size="8.5" text-anchor="end" fill="#111" stroke="#111" stroke-width="0.22" >15</text>
<line x1="423.00" y1="240.60" x2="427.20" y2="240.60" stroke="#111" stroke-width="1.2"/>
<text x="421.00" y="243.60" font-size="8.5" text-anchor="end" fill="#111" stroke="#111" stroke-width="0.22" >20</text>
<line x1="423.00" y1="231.10" x2="427.20" y2="231.10" stroke="#111" stroke-width="1.2"/>
<text x="421.00" y="234.10" font-size="8.5" text-anchor="end" fill="#111" stroke="#111" stroke-width="0.22" >25</text>
<line x1="423.00" y1="221.60" x2="427.20" y2="221.60" stroke="#111" stroke-width="1.2"/>
<text x="421.00" y="224.60" font-size="8.5" text-anchor="end" fill="#111" stroke="#111" stroke-width="0.22" >30</text>
<line x1="423.00" y1="212.10" x2="427.20" y2="212.10" stroke="#111" stroke-width="1.2"/>
<text x="421.00" y="215.10" font-size="8.5" text-anchor="end" fill="#111" stroke="#111" stroke-width="0.22" >35</text>
<line x1="423.00" y1="202.60" x2="427.20" y2="202.60" stroke="#111" stroke-width="1.2"/>
<text x="421.00" y="205.60" font-size="8.5" text-anchor="end" fill="#111" stroke="#111" stroke-width="0.22" >40</text>
<line x1="426.60" y1="199.60" x2="426.60" y2="279.30" stroke="#111" stroke-width="1.5"/>
<line x1="425.90" y1="278.60" x2="511.10" y2="278.60" stroke="#111" stroke-width="1.5"/>
<text transform="translate(393.60,239.50) rotate(-90)" font-size="9.0" text-anchor="middle" fill="#111" stroke="#111" stroke-width="0.22">PSGL-1 content</text>
<text transform="translate(404.70,239.60) rotate(-90)" font-size="9.2" text-anchor="middle" fill="#111" stroke="#111" stroke-width="0.22">(fraction of total)</text>
<text x="469.10" y="190.00" font-size="8.6" text-anchor="middle" font-weight="bold" fill="#111" stroke="#111" stroke-width="0.22" >E-selectin</text>
<rect x="432.05" y="239.00" width="17.70" height="39.60" fill="#522463" stroke="#3c1550" stroke-width="0.6"/>
<line x1="440.90" y1="238.70" x2="440.90" y2="230.40" stroke="#111" stroke-width="1.3"/>
<line x1="436.65" y1="230.40" x2="445.15" y2="230.40" stroke="#111" stroke-width="1.5"/>
<line x1="440.90" y1="278.60" x2="440.90" y2="281.80" stroke="#111" stroke-width="1.2"/>
<text x="440.90" y="229.40" font-size="7.5" text-anchor="middle" fill="#222" stroke="#222" stroke-width="0.22" >**</text>
<text transform="translate(444.40,289.40) rotate(-45)" font-size="8.4" text-anchor="end" fill="#111" stroke="#111" stroke-width="0.22">Vehicle</text>
<rect x="460.15" y="255.30" width="17.70" height="23.30" fill="#e8952a" stroke="#c47c1a" stroke-width="0.6"/>
<line x1="469.00" y1="255.00" x2="469.00" y2="248.30" stroke="#111" stroke-width="1.3"/>
<line x1="464.75" y1="248.30" x2="473.25" y2="248.30" stroke="#111" stroke-width="1.5"/>
<line x1="469.00" y1="278.60" x2="469.00" y2="281.80" stroke="#111" stroke-width="1.2"/>
<text transform="translate(472.50,289.40) rotate(-45)" font-size="8.4" text-anchor="end" fill="#111" stroke="#111" stroke-width="0.22">Rivipansel</text>
<rect x="487.95" y="276.90" width="18.30" height="1.70" fill="#142419"/>
<line x1="497.10" y1="277.50" x2="497.10" y2="276.50" stroke="#111" stroke-width="1.3"/>
<line x1="492.85" y1="276.50" x2="501.35" y2="276.50" stroke="#111" stroke-width="1.5"/>
<line x1="497.10" y1="278.60" x2="497.10" y2="281.80" stroke="#111" stroke-width="1.2"/>
<text transform="translate(500.60,289.40) rotate(-45)" font-size="8.4" text-anchor="end" fill="#111" stroke="#111" stroke-width="0.22">GSnP-6</text>
<line x1="440.90" y1="216.90" x2="497.10" y2="216.90" stroke="#111" stroke-width="1.3"/>
<line x1="440.90" y1="214.00" x2="440.90" y2="219.80" stroke="#111" stroke-width="1.3"/>
<line x1="497.10" y1="214.00" x2="497.10" y2="219.80" stroke="#111" stroke-width="1.3"/>
<text x="469.00" y="215.10" font-size="7.5" text-anchor="middle" fill="#222" stroke="#222" stroke-width="0.22" >*</text>
<line x1="469.00" y1="241.90" x2="497.10" y2="241.90" stroke="#111" stroke-width="1.3"/>
<line x1="469.00" y1="239.00" x2="469.00" y2="244.80" stroke="#111" stroke-width="1.3"/>
<line x1="497.10" y1="239.00" x2="497.10" y2="244.80" stroke="#111" stroke-width="1.3"/>
<text x="483.05" y="240.10" font-size="7.5" text-anchor="middle" fill="#222" stroke="#222" stroke-width="0.22" >*</text>
<line x1="280.20" y1="449.70" x2="284.40" y2="449.70" stroke="#111" stroke-width="1.2"/>
<text x="278.20" y="452.70" font-size="8.5" text-anchor="end" fill="#111" stroke="#111" stroke-width="0.22" >0</text>
<line x1="280.20" y1="433.02" x2="284.40" y2="433.02" stroke="#111" stroke-width="1.2"/>
<text x="278.20" y="436.02" font-size="8.5" text-anchor="end" fill="#111" stroke="#111" stroke-width="0.22" >2</text>
<line x1="280.20" y1="416.34" x2="284.40" y2="416.34" stroke="#111" stroke-width="1.2"/>
<text x="278.20" y="419.34" font-size="8.5" text-anchor="end" fill="#111" stroke="#111" stroke-width="0.22" >4</text>
<line x1="280.20" y1="399.66" x2="284.40" y2="399.66" stroke="#111" stroke-width="1.2"/>
<text x="278.20" y="402.66" font-size="8.5" text-anchor="end" fill="#111" stroke="#111" stroke-width="0.22" >6</text>
<line x1="280.20" y1="382.98" x2="284.40" y2="382.98" stroke="#111" stroke-width="1.2"/>
<text x="278.20" y="385.98" font-size="8.5" text-anchor="end" fill="#111" stroke="#111" stroke-width="0.22" >8</text>
<line x1="280.20" y1="366.30" x2="284.40" y2="366.30" stroke="#111" stroke-width="1.2"/>
<text x="278.20" y="369.30" font-size="8.5" text-anchor="end" fill="#111" stroke="#111" stroke-width="0.22" >10</text>
<line x1="283.80" y1="363.30" x2="283.80" y2="450.40" stroke="#111" stroke-width="1.5"/>
<line x1="283.10" y1="449.70" x2="368.30" y2="449.70" stroke="#111" stroke-width="1.5"/>
<text transform="translate(250.80,406.90) rotate(-90)" font-size="9.0" text-anchor="middle" fill="#111" stroke="#111" stroke-width="0.22">L-selectin content</text>
<text transform="translate(261.90,407.00) rotate(-90)" font-size="9.2" text-anchor="middle" fill="#111" stroke="#111" stroke-width="0.22">(fraction of total)</text>
<text x="326.30" y="355.90" font-size="8.6" text-anchor="middle" font-weight="bold" fill="#111" stroke="#111" stroke-width="0.22" >P-selectin</text>
<rect x="289.25" y="414.20" width="17.70" height="35.50" fill="#522463" stroke="#3c1550" stroke-width="0.6"/>
<line x1="298.10" y1="413.90" x2="298.10" y2="410.50" stroke="#111" stroke-width="1.3"/>
<line x1="293.85" y1="410.50" x2="302.35" y2="410.50" stroke="#111" stroke-width="1.5"/>
<line x1="298.10" y1="449.70" x2="298.10" y2="452.90" stroke="#111" stroke-width="1.2"/>
<text x="298.10" y="409.50" font-size="7.5" text-anchor="middle" fill="#222" stroke="#222" stroke-width="0.22" >***</text>
<text transform="translate(301.60,460.50) rotate(-45)" font-size="8.4" text-anchor="end" fill="#111" stroke="#111" stroke-width="0.22">Vehicle</text>
<rect x="317.35" y="443.50" width="17.70" height="6.20" fill="#e8952a" stroke="#c47c1a" stroke-width="0.6"/>
<line x1="326.20" y1="443.20" x2="326.20" y2="441.40" stroke="#111" stroke-width="1.3"/>
<line x1="321.95" y1="441.40" x2="330.45" y2="441.40" stroke="#111" stroke-width="1.5"/>
<line x1="326.20" y1="449.70" x2="326.20" y2="452.90" stroke="#111" stroke-width="1.2"/>
<text transform="translate(329.70,460.50) rotate(-45)" font-size="8.4" text-anchor="end" fill="#111" stroke="#111" stroke-width="0.22">Rivipansel</text>
<rect x="345.45" y="395.70" width="17.70" height="54.00" fill="#386a50" stroke="#22473a" stroke-width="0.6"/>
<line x1="354.30" y1="395.40" x2="354.30" y2="391.30" stroke="#111" stroke-width="1.3"/>
<line x1="350.05" y1="391.30" x2="358.55" y2="391.30" stroke="#111" stroke-width="1.5"/>
<line x1="354.30" y1="449.70" x2="354.30" y2="452.90" stroke="#111" stroke-width="1.2"/>
<text x="354.30" y="390.30" font-size="7.5" text-anchor="middle" fill="#222" stroke="#222" stroke-width="0.22" >***</text>
<text transform="translate(357.80,460.50) rotate(-45)" font-size="8.4" text-anchor="end" fill="#111" stroke="#111" stroke-width="0.22">GSnP-6</text>
<line x1="298.10" y1="368.10" x2="354.30" y2="368.10" stroke="#111" stroke-width="1.3"/>
<line x1="298.10" y1="365.20" x2="298.10" y2="371.00" stroke="#111" stroke-width="1.3"/>
<line x1="354.30" y1="365.20" x2="354.30" y2="371.00" stroke="#111" stroke-width="1.3"/>
<text x="326.20" y="366.30" font-size="7.5" text-anchor="middle" fill="#222" stroke="#222" stroke-width="0.22" >*</text>
<line x1="326.20" y1="378.20" x2="354.30" y2="378.20" stroke="#111" stroke-width="1.3"/>
<line x1="326.20" y1="375.30" x2="326.20" y2="381.10" stroke="#111" stroke-width="1.3"/>
<line x1="354.30" y1="375.30" x2="354.30" y2="381.10" stroke="#111" stroke-width="1.3"/>
<text x="340.25" y="376.40" font-size="7.5" text-anchor="middle" fill="#222" stroke="#222" stroke-width="0.22" >***</text>
<line x1="298.10" y1="397.80" x2="326.20" y2="397.80" stroke="#111" stroke-width="1.3"/>
<line x1="298.10" y1="394.90" x2="298.10" y2="400.70" stroke="#111" stroke-width="1.3"/>
<line x1="326.20" y1="394.90" x2="326.20" y2="400.70" stroke="#111" stroke-width="1.3"/>
<text x="312.15" y="396.00" font-size="7.5" text-anchor="middle" fill="#222" stroke="#222" stroke-width="0.22" >***</text>
<line x1="423.40" y1="449.40" x2="427.60" y2="449.40" stroke="#111" stroke-width="1.2"/>
<text x="421.40" y="452.40" font-size="8.5" text-anchor="end" fill="#111" stroke="#111" stroke-width="0.22" >0</text>
<line x1="423.40" y1="438.99" x2="427.60" y2="438.99" stroke="#111" stroke-width="1.2"/>
<text x="421.40" y="441.99" font-size="8.5" text-anchor="end" fill="#111" stroke="#111" stroke-width="0.22" >5</text>
<line x1="423.40" y1="428.57" x2="427.60" y2="428.57" stroke="#111" stroke-width="1.2"/>
<text x="421.40" y="431.57" font-size="8.5" text-anchor="end" fill="#111" stroke="#111" stroke-width="0.22" >10</text>
<line x1="423.40" y1="418.16" x2="427.60" y2="418.16" stroke="#111" stroke-width="1.2"/>
<text x="421.40" y="421.16" font-size="8.5" text-anchor="end" fill="#111" stroke="#111" stroke-width="0.22" >15</text>
<line x1="423.40" y1="407.75" x2="427.60" y2="407.75" stroke="#111" stroke-width="1.2"/>
<text x="421.40" y="410.75" font-size="8.5" text-anchor="end" fill="#111" stroke="#111" stroke-width="0.22" >20</text>
<line x1="423.40" y1="397.34" x2="427.60" y2="397.34" stroke="#111" stroke-width="1.2"/>
<text x="421.40" y="400.34" font-size="8.5" text-anchor="end" fill="#111" stroke="#111" stroke-width="0.22" >25</text>
<line x1="423.40" y1="386.93" x2="427.60" y2="386.93" stroke="#111" stroke-width="1.2"/>
<text x="421.40" y="389.93" font-size="8.5" text-anchor="end" fill="#111" stroke="#111" stroke-width="0.22" >30</text>
<line x1="423.40" y1="376.51" x2="427.60" y2="376.51" stroke="#111" stroke-width="1.2"/>
<text x="421.40" y="379.51" font-size="8.5" text-anchor="end" fill="#111" stroke="#111" stroke-width="0.22" >35</text>
<line x1="423.40" y1="366.10" x2="427.60" y2="366.10" stroke="#111" stroke-width="1.2"/>
<text x="421.40" y="369.10" font-size="8.5" text-anchor="end" fill="#111" stroke="#111" stroke-width="0.22" >40</text>
<line x1="427.00" y1="363.10" x2="427.00" y2="450.10" stroke="#111" stroke-width="1.5"/>
<line x1="426.30" y1="449.40" x2="511.50" y2="449.40" stroke="#111" stroke-width="1.5"/>
<text transform="translate(394.00,406.65) rotate(-90)" font-size="9.0" text-anchor="middle" fill="#111" stroke="#111" stroke-width="0.22">PSGL-1 content</text>
<text transform="translate(405.10,406.75) rotate(-90)" font-size="9.2" text-anchor="middle" fill="#111" stroke="#111" stroke-width="0.22">(fraction of total)</text>
<text x="469.50" y="355.90" font-size="8.6" text-anchor="middle" font-weight="bold" fill="#111" stroke="#111" stroke-width="0.22" >P-selectin</text>
<rect x="432.45" y="392.90" width="17.70" height="56.50" fill="#522463" stroke="#3c1550" stroke-width="0.6"/>
<line x1="441.30" y1="392.60" x2="441.30" y2="380.30" stroke="#111" stroke-width="1.3"/>
<line x1="437.05" y1="380.30" x2="445.55" y2="380.30" stroke="#111" stroke-width="1.5"/>
<line x1="441.30" y1="449.40" x2="441.30" y2="452.60" stroke="#111" stroke-width="1.2"/>
<text x="441.30" y="379.30" font-size="7.5" text-anchor="middle" fill="#222" stroke="#222" stroke-width="0.22" >**</text>
<text transform="translate(444.80,460.20) rotate(-45)" font-size="8.4" text-anchor="end" fill="#111" stroke="#111" stroke-width="0.22">Vehicle</text>
<rect x="460.55" y="424.40" width="17.70" height="25.00" fill="#e8952a" stroke="#c47c1a" stroke-width="0.6"/>
<line x1="469.40" y1="424.10" x2="469.40" y2="417.60" stroke="#111" stroke-width="1.3"/>
<line x1="465.15" y1="417.60" x2="473.65" y2="417.60" stroke="#111" stroke-width="1.5"/>
<line x1="469.40" y1="449.40" x2="469.40" y2="452.60" stroke="#111" stroke-width="1.2"/>
<text transform="translate(472.90,460.20) rotate(-45)" font-size="8.4" text-anchor="end" fill="#111" stroke="#111" stroke-width="0.22">Rivipansel</text>
<rect x="488.35" y="447.70" width="18.30" height="1.70" fill="#142419"/>
<line x1="497.50" y1="448.30" x2="497.50" y2="447.10" stroke="#111" stroke-width="1.3"/>
<line x1="493.25" y1="447.10" x2="501.75" y2="447.10" stroke="#111" stroke-width="1.5"/>
<line x1="497.50" y1="449.40" x2="497.50" y2="452.60" stroke="#111" stroke-width="1.2"/>
<text transform="translate(501.00,460.20) rotate(-45)" font-size="8.4" text-anchor="end" fill="#111" stroke="#111" stroke-width="0.22">GSnP-6</text>
<line x1="441.30" y1="369.50" x2="497.50" y2="369.50" stroke="#111" stroke-width="1.3"/>
<line x1="441.30" y1="366.60" x2="441.30" y2="372.40" stroke="#111" stroke-width="1.3"/>
<line x1="497.50" y1="366.60" x2="497.50" y2="372.40" stroke="#111" stroke-width="1.3"/>
<text x="469.40" y="367.70" font-size="7.5" text-anchor="middle" fill="#222" stroke="#222" stroke-width="0.22" >*</text>
<line x1="469.40" y1="413.60" x2="497.50" y2="413.60" stroke="#111" stroke-width="1.3"/>
<line x1="469.40" y1="410.70" x2="469.40" y2="416.50" stroke="#111" stroke-width="1.3"/>
<line x1="497.50" y1="410.70" x2="497.50" y2="416.50" stroke="#111" stroke-width="1.3"/>
<text x="483.45" y="411.80" font-size="7.5" text-anchor="middle" fill="#222" stroke="#222" stroke-width="0.22" >*</text>
</g></svg>
</body></html>
